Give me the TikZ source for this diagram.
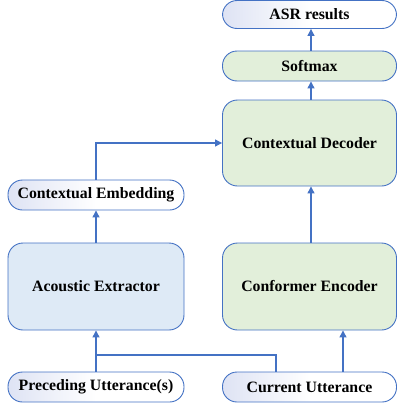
\documentclass[tikz,border=0pt]{standalone}
\usepackage{fontspec}
\setmainfont{Liberation Serif}
\usepackage{tikz}
\usetikzlibrary{positioning}
\usetikzlibrary{arrows.meta}
\definecolor{lineblue}{RGB}{68,114,196}
\definecolor{boxgreen}{RGB}{226,239,218}
\definecolor{boxblue}{RGB}{222,234,246}
\definecolor{pilltint}{RGB}{222,227,244}
\tikzstyle{blk_io} = [draw=lineblue, line width=0.9pt, rounded corners=14.5pt, left color=pilltint, right color=white, middle color=white, inner sep=0pt, minimum height=30pt, align=center, text centered]
\tikzstyle{blk_sm} = [draw=lineblue, line width=0.9pt, rounded corners=14.5pt, fill=boxgreen, inner sep=0pt, minimum height=30pt, align=center, text centered]
\tikzstyle{blk_g} = [draw=lineblue, line width=0.9pt, rounded corners=15pt, fill=boxgreen, inner sep=0pt, minimum height=87pt, align=center, text centered]
\tikzstyle{blk_b} = [draw=lineblue, line width=0.9pt, rounded corners=15pt, fill=boxblue, inner sep=0pt, minimum height=87pt, align=center, text centered]
\tikzstyle{flow} = [draw=lineblue, line width=1.2pt, -{Triangle[width=7pt,length=7pt]}]

\begin{document}
\begin{tikzpicture}[x=1pt, y=-1pt, font=\fontsize{15.8}{18}\selectfont\bfseries]
\useasboundingbox (0,0) rectangle (397,407);
% right column
\node [blk_io, minimum width=174pt, minimum height=28pt] (asr) at (309.5,14.5) {ASR results};
\node [blk_sm, minimum width=174pt] (soft) at (309.5,66) {Softmax};
\node [blk_g, minimum width=174pt, minimum height=86pt] (dec) at (309.5,143) {Contextual Decoder};
\node [blk_g, minimum width=174pt] (enc) at (309.5,286.5) {Conformer Encoder};
\node [blk_io, minimum width=174pt] (cur) at (309.5,387) {Current Utterance};
% left column
\node [blk_io, minimum width=176pt] (emb) at (96,195) {Contextual Embedding};
\node [blk_b, minimum width=176pt] (ext) at (96,286.5) {Acoustic Extractor};
\node [blk_io, minimum width=176pt] (pre) at (96,387) {Preceding Utterance(s)};
\coordinate (join) at (96,355);

\draw [flow] (pre) -- (ext);
\draw [draw=lineblue, line width=1.2pt] (cur.north -| 276,0) |- (join);
\draw [flow] (cur.north -| 343,0) -- (enc.south -| 343,0);
\draw [flow] (ext) -- (emb);
\draw [flow] (emb.north) |- (dec.west);
\draw [flow] (enc.north -| 311,0) -- (dec.south -| 311,0);
\draw [flow] (dec.north -| 311,0) -- (soft.south -| 311,0);
\draw [flow] (soft.north -| 311,0) -- (asr.south -| 311,0);
\end{tikzpicture}
\end{document}
